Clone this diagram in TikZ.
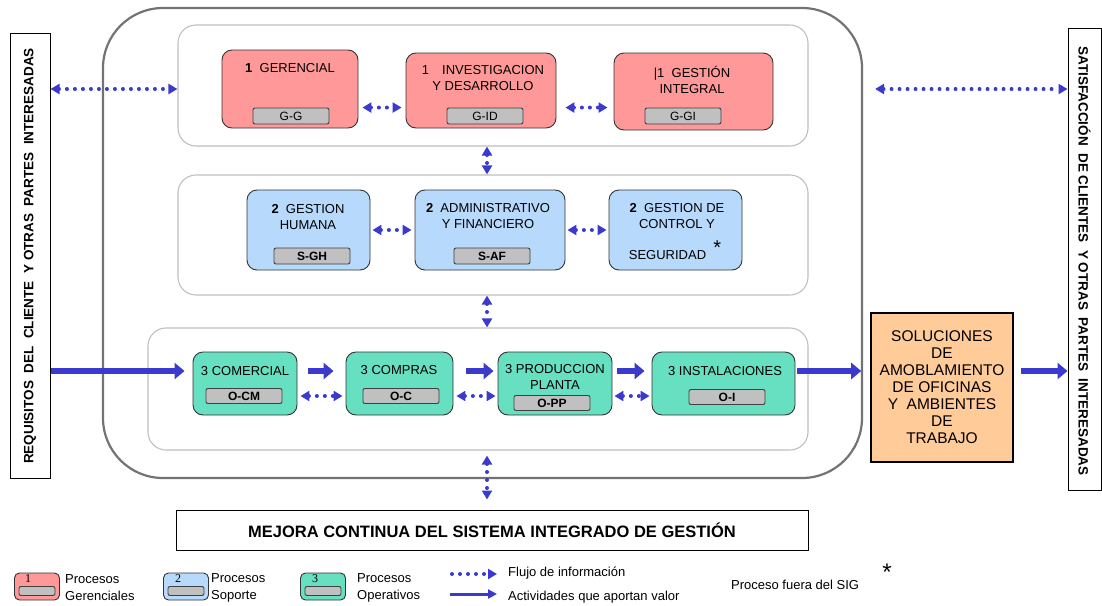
\documentclass[tikz,border=0pt]{standalone}
\usepackage{fontspec}
\setmainfont{Liberation Sans}
\newfontfamily\legnum{Liberation Serif}
\usetikzlibrary{arrows.meta}

\definecolor{rojoG}{RGB}{255,153,153}
\definecolor{azulS}{RGB}{183,218,252}
\definecolor{verdeO}{RGB}{102,224,192}
\definecolor{naranja}{RGB}{255,204,153}
\definecolor{grisT}{RGB}{192,192,192}
\definecolor{flecha}{RGB}{58,58,206}

\begin{document}
\begin{tikzpicture}
          [x=1pt,y=-1pt,
           marco/.style={draw=black!55,line width=2.2pt,rounded corners=60pt,inner sep=0pt},
           grupo/.style={draw=black!25,line width=1.1pt,rounded corners=18pt,inner sep=0pt},
           proceso/.style={draw=black!80,line width=0.9pt,rounded corners=10pt,inner sep=0pt},
           titulo/.style={font=\fontsize{13}{15.5}\selectfont,align=center,inner sep=0pt},
           codigo/.style={draw=black!75,fill=grisT,line width=0.9pt,rounded corners=2pt,minimum width=76pt,minimum height=16pt,inner sep=0pt,font=\fontsize{12}{14}\selectfont},
           lado/.style={draw=black,line width=1pt,inner sep=0pt},
           ladotxt/.style={font=\fontsize{13.5}{15}\selectfont\bfseries,inner sep=0pt},
           leyenda/.style={font=\fontsize{13}{17}\selectfont,align=left,anchor=west,inner sep=0pt},
           flujo/.style={draw=flecha,line width=4pt,line cap=round,dash pattern=on 0pt off 8pt,arrows={Triangle[length=9pt,width=10pt]-Triangle[length=9pt,width=10pt]}},
           valor/.style={draw=flecha,line width=6.5pt,arrows={-Triangle[length=10pt,width=16pt]}}]

          \useasboundingbox (0,0) rectangle (1102,605);

          \node[marco,minimum width=759pt,minimum height=470pt] (sig) at (482.5,243) {};
          \node[grupo,minimum width=630pt,minimum height=121pt] (grpG) at (493,85.5) {};
          \node[grupo,minimum width=630pt,minimum height=120pt] (grpS) at (493,235) {};
          \node[grupo,minimum width=660pt,minimum height=122pt] (grpO) at (478,389) {};
          \coordinate (eje) at (487,0);

          \node[lado,minimum width=40pt,minimum height=445pt] (req) at (30,255.5) {};
          \node[ladotxt,rotate=90] (req-t) at (30,256) {REQUISITOS\ \ DEL\ \ CLIENTE\ \ Y OTRAS\ \ PARTES\ \ INTERESADAS};
          \node[lado,minimum width=33pt,minimum height=462pt] (sat) at (1084.5,259.5) {};
          \node[ladotxt,rotate=-90] (sat-t) at (1084.5,261) {SATISFACCIÓN\ \ DE CLIENTES\ \ Y OTRAS\ \ PARTES\ \ INTERESADAS};

          \node[proceso,fill=rojoG,minimum width=136pt,minimum height=78pt] (ger) at (290,89) {};
          \node[titulo] (ger-t) at (290,68) {\textbf{1}\ \ GERENCIAL};
          \node[codigo] (gg) at (291,116) {G-G};
          \node[proceso,fill=rojoG,minimum width=150pt,minimum height=75pt] (inv) at (481,90.5) {};
          \node[titulo] (inv-t) at (483,78) {1\quad INVESTIGACION\\Y DESARROLLO};
          \node[codigo] (gid) at (485,116) {G-ID};
          \node[proceso,fill=rojoG,minimum width=159pt,minimum height=77pt] (gi) at (693.5,91.5) {};
          \node[titulo] (gi-t) at (692,80) {|1\ \ GESTIÓN\\INTEGRAL};
          \node[codigo] (ggi) at (683,116) {G-GI};

          \node[proceso,fill=azulS,minimum width=123pt,minimum height=80pt] (gh) at (308.5,230) {};
          \node[titulo] (gh-t) at (308,217) {\textbf{2}\ \ GESTION\\HUMANA};
          \node[codigo,font=\fontsize{12}{14}\selectfont\bfseries] (sgh) at (312,256) {S-GH};
          \node[proceso,fill=azulS,minimum width=150pt,minimum height=80pt] (af) at (490,230) {};
          \node[titulo] (af-t) at (488,216) {\textbf{2}\ \ ADMINISTRATIVO\\Y FINANCIERO};
          \node[codigo,font=\fontsize{12}{14}\selectfont\bfseries] (saf) at (492,256) {S-AF};
          \node[proceso,fill=azulS,minimum width=133pt,minimum height=80pt] (gcs) at (675.5,230) {};
          \node[titulo] (gcs-t) at (677,216) {\textbf{2}\ \ GESTION DE\\CONTROL Y};
          \node[titulo] (gcs-s) at (675,250) {SEGURIDAD\ \ \raisebox{5pt}{\fontsize{20}{20}\selectfont *}};

          \node[proceso,fill=verdeO,minimum width=104pt,minimum height=63pt] (cm) at (245,383.5) {};
          \node[titulo] (cm-t) at (245,371) {3 COMERCIAL};
          \node[codigo,minimum height=15pt,font=\fontsize{12}{14}\selectfont\bfseries] (ocm) at (244,396) {O-CM};
          \node[proceso,fill=verdeO,minimum width=107pt,minimum height=63pt] (co) at (399.5,383.5) {};
          \node[titulo] (co-t) at (399,370) {3 COMPRAS};
          \node[codigo,minimum height=15pt,font=\fontsize{12}{14}\selectfont\bfseries] (oc) at (401,396) {O-C};
          \node[proceso,fill=verdeO,minimum width=114pt,minimum height=63pt] (pp) at (555,383.5) {};
          \node[titulo] (pp-t) at (555,377) {3 PRODUCCION\\PLANTA};
          \node[codigo,minimum height=15pt,font=\fontsize{12}{14}\selectfont\bfseries] (opp) at (552,403) {O-PP};
          \node[proceso,fill=verdeO,minimum width=143pt,minimum height=63pt] (ins) at (723.5,383.5) {};
          \node[titulo] (ins-t) at (725,371) {3 INSTALACIONES};
          \node[codigo,minimum height=15pt,font=\fontsize{12}{14}\selectfont\bfseries] (oi) at (727,397) {O-I};

          \node[draw=black,line width=1.6pt,fill=naranja,minimum width=142pt,minimum height=149pt,align=center,font=\fontsize{15.5}{17}\selectfont] (sol) at (942,387.5) {SOLUCIONES\\DE\\AMOBLAMIENTO\\DE OFICINAS\\Y\ \ AMBIENTES\\DE\\TRABAJO};
          \node[draw=black,line width=1pt,minimum width=632pt,minimum height=40pt,font=\fontsize{16.5}{18}\selectfont\bfseries] (mejora) at (492,530) {MEJORA CONTINUA DEL SISTEMA INTEGRADO DE GESTIÓN};

          \draw[flujo] (req.east |- ger) -- (grpG.west |- ger);
          \draw[flujo,shorten <=12pt] (sig.east |- ger) -- (sat.west |- ger);
          \draw[flujo,shorten <=4pt,shorten >=4pt] (ger.east |- gg.north) -- (inv.west |- gg.north);
          \draw[flujo,shorten <=9pt,shorten >=6pt] (inv.east |- gg.north) -- (gi.west |- gg.north);
          \draw[flujo,shorten <=2pt,shorten >=3pt] (gh.east) -- (af.west);
          \draw[flujo,shorten <=2pt,shorten >=2pt] (af.east) -- (gcs.west);
          \draw[flujo] (eje |- grpG.south) -- (eje |- grpS.north);
          \draw[flujo] (eje |- grpS.south) -- (eje |- grpO.north);
          \draw[flujo,shorten <=5pt,shorten >=10pt] (eje |- grpO.south) -- (eje |- mejora.north);
          \draw[flujo,shorten <=3pt,shorten >=3pt] (cm.east |- ocm) -- (co.west |- ocm);
          \draw[flujo,shorten <=3pt,shorten >=2pt] (co.east |- ocm) -- (pp.west |- ocm);
          \draw[flujo,shorten <=2pt,shorten >=2pt] (pp.east |- ocm) -- (ins.west |- ocm);

          \draw[valor,shorten >=8pt] (req.east |- cm-t) -- (cm.west |- cm-t);
          \draw[valor,shorten <=11pt,shorten >=12pt] (cm.east |- cm-t) -- (co.west |- cm-t);
          \draw[valor,shorten <=13pt,shorten >=4pt] (co.east |- cm-t) -- (pp.west |- cm-t);
          \draw[valor,shorten <=5pt,shorten >=7pt] (pp.east |- cm-t) -- (ins.west |- cm-t);
          \draw[valor,shorten <=2pt,shorten >=9pt] (ins.east |- cm-t) -- (sol.west |- cm-t);
          \draw[valor,shorten <=7pt] (sol.east |- cm-t) -- (sat.west |- cm-t);

          \node[proceso,rounded corners=5pt,fill=rojoG,minimum width=45pt,minimum height=27pt] (lg1) at (37,586.5) {};
          \node[font=\legnum\fontsize{12}{12}\selectfont,inner sep=0pt] (lg1-n) at (28,578.5) {1};
          \node[codigo,minimum width=36pt,minimum height=9pt] (lg1-c) at (37,591) {};
          \node[leyenda] (lg1-t) at (65,587.5) {Procesos\\Gerenciales};
          \node[proceso,rounded corners=5pt,fill=azulS,minimum width=45pt,minimum height=27pt] (lg2) at (186,586.5) {};
          \node[font=\legnum\fontsize{12}{12}\selectfont,inner sep=0pt] (lg2-n) at (178,578.5) {2};
          \node[codigo,minimum width=36pt,minimum height=9pt] (lg2-c) at (186,591) {};
          \node[leyenda] (lg2-t) at (211,587.5) {Procesos\\Soporte};
          \node[proceso,rounded corners=5pt,fill=verdeO,minimum width=45pt,minimum height=27pt] (lg3) at (323,586.5) {};
          \node[font=\legnum\fontsize{12}{12}\selectfont,inner sep=0pt] (lg3-n) at (315,578.5) {3};
          \node[codigo,minimum width=36pt,minimum height=9pt] (lg3-c) at (323,591) {};
          \node[leyenda] (lg3-t) at (357,587.5) {Procesos\\Operativos};

          \coordinate (lf1) at (452,574);
          \coordinate (lf2) at (497,574);
          \coordinate (lv1) at (450,594);
          \coordinate (lv2) at (497,594);
          \draw[flujo,arrows={-Triangle[length=9pt,width=10pt]}] (lf1) -- (lf2);
          \draw[valor,line width=3pt,arrows={-Triangle[length=9pt,width=9pt]}] (lv1) -- (lv2);
          \node[leyenda] (lf-t) at (508,573) {Flujo de información};
          \node[leyenda] (lv-t) at (508,597) {Actividades que aportan valor};
          \node[leyenda] (fuera) at (731,585) {Proceso fuera del SIG};
          \node[font=\fontsize{24}{24}\selectfont,inner sep=0pt] (fuera-a) at (887,572) {*};
        \end{tikzpicture}
\end{document}
